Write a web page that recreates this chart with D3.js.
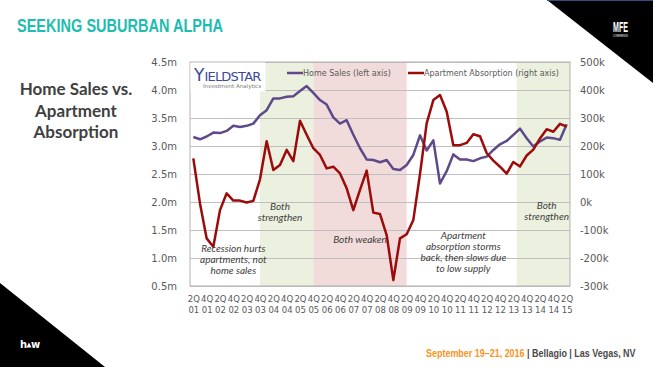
<!DOCTYPE html>
<html>
<head>
<meta charset="utf-8">
<script src="https://cdn.jsdelivr.net/npm/d3@7"></script>
<style>
  body { margin: 0; background: #fff; }
  svg { display: block; }
</style>
</head>
<body>
<svg id="chart" width="653" height="367"></svg>
<script>
const quarters = ("2Q01 3Q01 4Q01 1Q02 2Q02 3Q02 4Q02 1Q03 2Q03 3Q03 4Q03 1Q04 2Q04 3Q04 4Q04 " +
  "1Q05 2Q05 3Q05 4Q05 1Q06 2Q06 3Q06 4Q06 1Q07 2Q07 3Q07 4Q07 1Q08 2Q08 3Q08 4Q08 " +
  "1Q09 2Q09 3Q09 4Q09 1Q10 2Q10 3Q10 4Q10 1Q11 2Q11 3Q11 4Q11 1Q12 2Q12 3Q12 4Q12 " +
  "1Q13 2Q13 3Q13 4Q13 1Q14 2Q14 3Q14 4Q14 1Q15 2Q15").split(" ");

// home sales, millions (left axis)
const homeSales = [3.16, 3.12, 3.17, 3.24, 3.23, 3.27, 3.36, 3.34, 3.36, 3.40, 3.55, 3.64, 3.85, 3.85, 3.88,
  3.89, 3.98, 4.07, 3.95, 3.82, 3.74, 3.51, 3.40, 3.46, 3.20, 2.96, 2.76, 2.75, 2.71, 2.75, 2.59,
  2.57, 2.66, 2.84, 3.19, 2.92, 3.10, 2.33, 2.55, 2.85, 2.76, 2.76, 2.73, 2.78, 2.81, 2.93, 3.03,
  3.09, 3.20, 3.31, 3.14, 2.99, 3.08, 3.15, 3.14, 3.11, 3.39];

// apartment absorption, thousands (right axis)
const absorption = [156, -5, -130, -160, -29, 31, 5, 5, -2, 4, 81, 217, 114, 132, 186,
  146, 290, 240, 192, 168, 120, 126, 102, 49, -29, 43, 112, -38, -43, -118, -279,
  -130, -115, -64, 100, 281, 364, 382, 323, 203, 203, 211, 242, 235, 175, 148, 126,
  101, 143, 127, 166, 187, 227, 260, 251, 279, 269];

const leftTicks = [0.5, 1.0, 1.5, 2.0, 2.5, 3.0, 3.5, 4.0, 4.5];
const rightTicks = [-300, -200, -100, 0, 100, 200, 300, 400, 500];

const bands = [
  { from: "4Q03", to: "4Q05", kind: "up" },
  { from: "4Q05", to: "2Q09", kind: "down" },
  { from: "3Q13", to: "2Q15", kind: "up" }
];

const notes = [
  { at: "4Q02", value: 1.1, lines: ["Recession hurts", "apartments, not", "home sales"] },
  { at: "3Q04", value: 1.86, lines: ["Both", "strengthen"] },
  { at: "3Q07", value: 1.26, lines: ["Both weaken"] },
  { at: "2Q11", value: 1.34, lines: ["Apartment", "absorption storms", "back, then slows due", "to low supply"] },
  { at: "3Q14", value: 1.88, lines: ["Both", "strengthen"] }
];

const svg = d3.select("#chart");
const plotL = 190, plotR = 570, plotT = 62, plotB = 286;

svg.append("rect").attr("width", 653).attr("height", 367).attr("fill", "#fff");

const x = d3.scalePoint().domain(quarters).range([plotL, plotR]).padding(0.5);
const y = d3.scaleLinear().domain([0.5, 4.5]).range([plotB, plotT]);
const y2 = d3.scaleLinear().domain([-300, 500]).range([plotB, plotT]);

const bandStart = d => d.from === "3Q13" ? x(d.from) - x.step() / 2 : x(d.from);
const bandEnd = d => d.to === quarters[quarters.length - 1] ? plotR : x(d.to);

// shaded periods
svg.selectAll(".band")
  .data(bands)
  .enter().append("rect")
  .attr("class", "band")
  .attr("x", bandStart)
  .attr("width", d => bandEnd(d) - bandStart(d))
  .attr("y", plotT)
  .attr("height", plotB - plotT)
  .attr("fill", d => d.kind === "up" ? "#ebf0df" : "#f2dcdb");

// grid lines
svg.append("g")
  .attr("transform", "translate(" + plotL + ",0)")
  .call(d3.axisLeft(y).tickValues(leftTicks).tickSize(-(plotR - plotL)).tickFormat(""))
  .call(g => g.select(".domain").remove())
  .call(g => g.selectAll("line").attr("stroke", "#bfbfbf"));

svg.append("rect")
  .attr("x", plotL).attr("y", plotT)
  .attr("width", plotR - plotL).attr("height", plotB - plotT)
  .attr("fill", "none").attr("stroke", "#b3b3b3");

// axes labels
svg.append("g")
  .attr("transform", "translate(" + (plotL - 10) + ",0)")
  .call(d3.axisLeft(y).tickValues(leftTicks).tickSize(0).tickFormat(d => d3.format(".1f")(d) + "m"))
  .call(g => g.select(".domain").remove())
  .call(g => g.selectAll("text").attr("fill", "#595959").attr("font-size", "10px")
      .attr("font-family", "DejaVu Sans"));

svg.append("g")
  .attr("transform", "translate(" + (plotR + 10) + ",0)")
  .call(d3.axisRight(y2).tickValues(rightTicks).tickSize(0).tickPadding(0).tickFormat(d => d + "k"))
  .call(g => g.select(".domain").remove())
  .call(g => g.selectAll("text").attr("fill", "#595959").attr("font-size", "10px")
      .attr("font-family", "DejaVu Sans"));

const xAxis = svg.append("g")
  .attr("transform", "translate(0," + plotB + ")")
  .call(d3.axisBottom(x).tickValues(quarters.filter((q, i) => i % 2 === 0)).tickSize(0).tickFormat(""))
  .call(g => g.select(".domain").remove());

xAxis.selectAll(".tick text").remove();
xAxis.selectAll(".tick").append("text")
  .attr("fill", "#595959").attr("font-size", "8.5px").attr("font-family", "DejaVu Sans")
  .attr("text-anchor", "middle")
  .selectAll("tspan")
  .data(d => [d.slice(0, 2), d.slice(2)])
  .enter().append("tspan")
  .attr("x", 0)
  .attr("y", (d, i) => 15.5 + i * 11)
  .text(d => d);

// notes
svg.selectAll(".note")
  .data(notes)
  .enter().append("text")
  .attr("class", "note")
  .attr("text-anchor", "middle")
  .attr("font-family", "Lato")
  .attr("font-style", "italic")
  .attr("font-size", "10px")
  .attr("fill", "#404040")
  .each(function(d) {
    d3.select(this).selectAll("tspan")
      .data(d.lines)
      .enter().append("tspan")
      .attr("x", x(d.at) + (d.at === "2Q11" ? x.step() / 2 : 0))
      .attr("y", (l, i) => y(d.value) + i * 11)
      .text(l => l);
  });

// lines
const salesLine = d3.line().x((d, i) => x(quarters[i])).y(d => y(d));
const absLine = d3.line().x((d, i) => x(quarters[i])).y(d => y2(d));

svg.append("path")
  .datum(homeSales)
  .attr("d", salesLine)
  .attr("fill", "none")
  .attr("stroke", "#5e4a8a")
  .attr("stroke-width", 2.5)
  .attr("stroke-linejoin", "round");

svg.append("path")
  .datum(absorption)
  .attr("d", absLine)
  .attr("fill", "none")
  .attr("stroke", "#9c0b0b")
  .attr("stroke-width", 2.5)
  .attr("stroke-linejoin", "round");

// yieldstar logo
const logo = svg.append("g");
logo.append("rect").attr("x", plotL + 0.5).attr("y", plotT + 0.5).attr("width", 75).attr("height", 29).attr("fill", "#fff");
logo.append("text")
  .attr("x", 194).attr("y", 81)
  .attr("font-family", "DejaVu Sans").attr("fill", "#3d4a9a")
  .call(t => t.append("tspan").attr("font-size", "17px").text("Y"))
  .call(t => t.append("tspan").attr("font-size", "13px").attr("textLength", 57).text("IELDSTAR"));
logo.append("text")
  .attr("x", 203).attr("y", 87.5)
  .attr("font-family", "DejaVu Sans").attr("font-size", "5.5px").attr("fill", "#7a7a7a")
  .attr("textLength", 58)
  .text("Investment Analytics");

// legend
const legend = [
  { name: "Home Sales (left axis)", color: "#5e4a8a", x0: 287 },
  { name: "Apartment Absorption (right axis)", color: "#9c0b0b", x0: 408 }
];
const lg = svg.selectAll(".legend").data(legend).enter().append("g")
  .attr("transform", d => "translate(" + d.x0 + ",73)");
lg.append("line").attr("x1", 0).attr("x2", 16).attr("stroke", d => d.color).attr("stroke-width", 2.5);
lg.append("text").attr("x", 16).attr("y", 3)
  .attr("font-family", "DejaVu Sans").attr("font-size", "8px").attr("fill", "#595959")
  .text(d => d.name);

// slide furniture
svg.append("text")
  .attr("x", 17).attr("y", 32)
  .attr("font-family", "Liberation Sans, Arial, sans-serif")
  .attr("font-weight", "bold").attr("font-size", "18px")
  .attr("fill", "#1ebdaf")
  .attr("textLength", 206).attr("lengthAdjust", "spacingAndGlyphs")
  .text("SEEKING SUBURBAN ALPHA");

svg.append("text")
  .attr("text-anchor", "middle")
  .attr("font-family", "Lato").attr("font-weight", "bold").attr("font-size", "17px")
  .attr("fill", "#404040")
  .selectAll("tspan")
  .data(["Home Sales vs.", "Apartment", "Absorption"])
  .enter().append("tspan")
  .attr("x", 76)
  .attr("y", (d, i) => 95 + i * 21.5)
  .text(d => d);

svg.append("polygon").attr("points", "547,0 653,0 653,83").attr("fill", "#000");
svg.append("line").attr("x1", 547).attr("x2", 653).attr("y1", 0.5).attr("y2", 0.5).attr("stroke", "#2f4f7f");
svg.append("text")
  .attr("x", 613).attr("y", 32)
  .attr("font-family", "Liberation Sans, sans-serif").attr("font-weight", "bold")
  .attr("font-size", "15px").attr("fill", "#fff")
  .attr("textLength", 15).attr("lengthAdjust", "spacingAndGlyphs")
  .text("MFE");
svg.append("text")
  .attr("x", 613).attr("y", 37)
  .attr("font-family", "Liberation Sans, sans-serif").attr("font-size", "3px").attr("fill", "#fff")
  .attr("textLength", 15).attr("lengthAdjust", "spacingAndGlyphs")
  .text("CONFERENCE");

svg.append("polygon").attr("points", "0,283 105,367 0,367").attr("fill", "#000");
svg.append("text")
  .attr("x", 20).attr("y", 348)
  .attr("font-family", "DejaVu Sans").attr("font-weight", "bold").attr("font-size", "10px").attr("fill", "#fff")
  .text("h\u2009\u2009w");
svg.append("polygon").attr("points", "26.5,347.5 29,342.5 31.5,347.5").attr("fill", "#fff");

// footer, condensed by a horizontal scale
const footerG = svg.append("g");
const footer = footerG.append("text")
  .attr("x", 0).attr("y", 0)
  .attr("font-family", "Liberation Sans, Arial, sans-serif")
  .attr("font-weight", "bold").attr("font-size", "11px");
footer.append("tspan").attr("fill", "#f7941d").text("September 19\u201321, 2016");
footer.append("tspan").attr("fill", "#4a4a4a").text(" | Bellagio | Las Vegas, NV");
const footW = footer.node().getComputedTextLength();
footerG.attr("transform", "translate(426,357) scale(" + (210 / footW) + ",1)");
</script>
</body>
</html>
